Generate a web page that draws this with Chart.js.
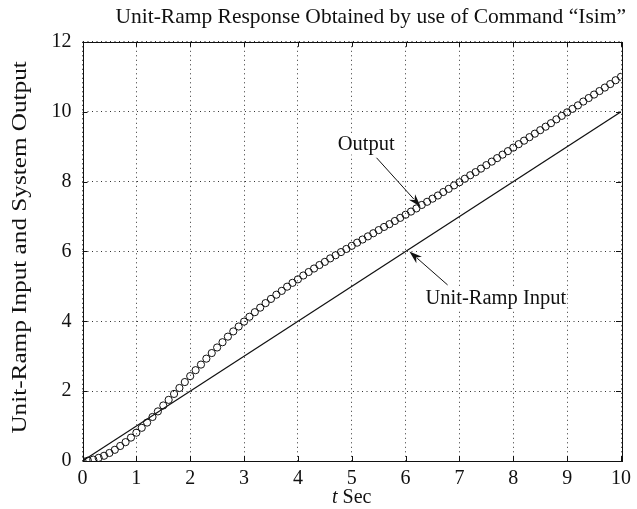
<!DOCTYPE html>
<html>
<head>
<meta charset="utf-8">
<title>Unit-Ramp Response</title>
<script src="https://cdn.jsdelivr.net/npm/chart.js@4.4.0/dist/chart.umd.min.js"></script>
<style>
  body { margin: 0; background: #fff; }
  canvas { display: block; }
</style>
</head>
<body>
<canvas id="chart" width="637" height="509"></canvas>
<script>
// time samples of the simulation (sec)
const timeSec = [
  0, 0.1, 0.2, 0.3, 0.4, 0.5, 0.6, 0.7, 0.8, 0.9,
  1, 1.1, 1.2, 1.3, 1.4, 1.5, 1.6, 1.7, 1.8, 1.9,
  2, 2.1, 2.2, 2.3, 2.4, 2.5, 2.6, 2.7, 2.8, 2.9,
  3, 3.1, 3.2, 3.3, 3.4, 3.5, 3.6, 3.7, 3.8, 3.9,
  4, 4.1, 4.2, 4.3, 4.4, 4.5, 4.6, 4.7, 4.8, 4.9,
  5, 5.1, 5.2, 5.3, 5.4, 5.5, 5.6, 5.7, 5.8, 5.9,
  6, 6.1, 6.2, 6.3, 6.4, 6.5, 6.6, 6.7, 6.8, 6.9,
  7, 7.1, 7.2, 7.3, 7.4, 7.5, 7.6, 7.7, 7.8, 7.9,
  8, 8.1, 8.2, 8.3, 8.4, 8.5, 8.6, 8.7, 8.8, 8.9,
  9, 9.1, 9.2, 9.3, 9.4, 9.5, 9.6, 9.7, 9.8, 9.9,
  10
];

// system output c(t), one value per sample above
const systemOutput = [
  0.00, 0.01, 0.04, 0.09, 0.15, 0.23, 0.32, 0.43, 0.54, 0.67,
  0.81, 0.95, 1.10, 1.26, 1.42, 1.59, 1.75, 1.92, 2.09, 2.26,
  2.43, 2.60, 2.76, 2.93, 3.09, 3.25, 3.40, 3.56, 3.71, 3.85,
  3.99, 4.13, 4.26, 4.39, 4.52, 4.64, 4.76, 4.87, 4.99, 5.10,
  5.20, 5.31, 5.41, 5.51, 5.61, 5.70, 5.80, 5.89, 5.98, 6.07,
  6.16, 6.25, 6.34, 6.43, 6.52, 6.61, 6.70, 6.78, 6.87, 6.96,
  7.05, 7.14, 7.23, 7.33, 7.42, 7.51, 7.60, 7.70, 7.79, 7.89,
  7.98, 8.08, 8.18, 8.27, 8.37, 8.47, 8.57, 8.67, 8.77, 8.87,
  8.97, 9.07, 9.17, 9.27, 9.37, 9.47, 9.57, 9.67, 9.78, 9.88,
  9.98, 10.08, 10.18, 10.29, 10.39, 10.49, 10.59, 10.69, 10.79, 10.90,
  11.00
];

// unit-ramp input r(t) = t, end points
const rampTime = [0, 10];
const rampInput = [0, 10];

// axis ticks
const xTicks = [0, 1, 2, 3, 4, 5, 6, 7, 8, 9, 10];
const yTicks = [0, 2, 4, 6, 8, 10, 12];

// text labels with arrows, in data units: label pos, arrow tail, arrow head
const notes = [
  { text: 'Output', at: [5.27, 9.06], align: 'center', from: [5.46, 8.68], to: [6.28, 7.28] },
  { text: 'Unit-Ramp Input', at: [6.37, 4.64], align: 'left', from: [6.78, 5.04], to: [6.07, 6.0] }
];

const FONT = '"Liberation Serif", "Times New Roman", serif';
const INK = '#111';

const toPoints = (xs, ys) => xs.map((x, i) => ({ x: x, y: ys[i] }));

/*
* Moldura do eixo, marcas de escala para dentro, setas e titulos dos eixos.
*/
const framePlugin = {
  id: 'frame',
  beforeDraw(chart) {
    const c = chart.ctx;
    c.save();
    c.fillStyle = '#fff';
    c.fillRect(0, 0, chart.width, chart.height);
    c.restore();
  },
  afterDraw(chart) {
    const c = chart.ctx;
    const a = chart.chartArea;
    const sx = chart.scales.x;
    const sy = chart.scales.y;
    const tick = 5;

    c.save();
    c.strokeStyle = INK;
    c.lineWidth = 1;
    c.setLineDash([]);

    // inward tick marks on all four sides
    c.beginPath();
    xTicks.forEach(v => {
      const px = Math.round(sx.getPixelForValue(v)) + 0.5;
      c.moveTo(px, a.bottom); c.lineTo(px, a.bottom - tick);
      c.moveTo(px, a.top); c.lineTo(px, a.top + tick);
    });
    yTicks.forEach(v => {
      const py = Math.round(sy.getPixelForValue(v)) + 0.5;
      c.moveTo(a.left, py); c.lineTo(a.left + tick, py);
      c.moveTo(a.right, py); c.lineTo(a.right - tick, py);
    });
    c.stroke();

    c.strokeRect(Math.round(a.left) + 0.5, Math.round(a.top) + 0.5,
      Math.round(a.right - a.left), Math.round(a.bottom - a.top));

    // annotations, on a white patch so the grid does not cross the text
    c.font = '20.5px ' + FONT;
    c.textBaseline = 'middle';
    notes.forEach(n => {
      const tx = sx.getPixelForValue(n.at[0]);
      const ty = sy.getPixelForValue(n.at[1]);
      const w = c.measureText(n.text).width;
      const left = n.align === 'center' ? tx - w / 2 : tx;
      c.fillStyle = '#fff';
      c.fillRect(left - 1, ty - 10, w + 2, 20);
      c.fillStyle = INK;
      c.textAlign = n.align;
      c.fillText(n.text, tx, ty);
      drawArrow(c,
        sx.getPixelForValue(n.from[0]), sy.getPixelForValue(n.from[1]),
        sx.getPixelForValue(n.to[0]), sy.getPixelForValue(n.to[1]));
    });

    // x axis title, italic t
    const cx = (a.left + a.right) / 2;
    const ty = 498;
    c.textAlign = 'left';
    c.font = 'italic 20px ' + FONT;
    const tW = c.measureText('t').width;
    c.font = '20px ' + FONT;
    const sW = c.measureText(' Sec').width;
    const x0 = cx - (tW + sW) / 2;
    c.font = 'italic 20px ' + FONT;
    c.fillText('t', x0, ty);
    c.font = '20px ' + FONT;
    c.fillText(' Sec', x0 + tW, ty);

    // y axis title, rotated and a bit stretched along the text
    c.save();
    c.translate(20, (a.top + a.bottom) / 2 - 4);
    c.rotate(-Math.PI / 2);
    c.scale(1.2, 1);
    c.textAlign = 'center';
    c.font = '21px ' + FONT;
    c.fillText('Unit-Ramp Input and System Output', 0, 0);
    c.restore();

    c.restore();
  }
};

function drawArrow(c, x1, y1, x2, y2) {
  const ang = Math.atan2(y2 - y1, x2 - x1);
  const len = 13;
  const half = 4.2;
  c.beginPath();
  c.moveTo(x1, y1);
  c.lineTo(x2 - Math.cos(ang) * len * 0.8, y2 - Math.sin(ang) * len * 0.8);
  c.stroke();
  c.beginPath();
  c.moveTo(x2, y2);
  c.lineTo(x2 - Math.cos(ang) * len - Math.sin(ang) * half, y2 - Math.sin(ang) * len + Math.cos(ang) * half);
  c.lineTo(x2 - Math.cos(ang) * len * 0.7, y2 - Math.sin(ang) * len * 0.7);
  c.lineTo(x2 - Math.cos(ang) * len + Math.sin(ang) * half, y2 - Math.sin(ang) * len - Math.cos(ang) * half);
  c.closePath();
  c.fill();
}

const ctx = document.getElementById('chart');

new Chart(ctx, {
  type: 'scatter',
  data: {
    datasets: [
      {
        label: 'Output',
        data: toPoints(timeSec, systemOutput),
        showLine: false,
        pointStyle: 'circle',
        pointRadius: 3.6,
        pointBorderWidth: 1,
        pointBorderColor: INK,
        pointBackgroundColor: 'rgba(0,0,0,0)'
      },
      {
        label: 'Unit-Ramp Input',
        data: toPoints(rampTime, rampInput),
        showLine: true,
        borderColor: INK,
        borderWidth: 1.2,
        pointRadius: 0
      }
    ]
  },
  options: {
    responsive: false,
    animation: false,
    events: [],
    layout: { padding: { left: 0, right: 11, top: 0, bottom: 0 } },
    plugins: {
      legend: { display: false },
      tooltip: { enabled: false },
      title: {
        display: true,
        text: 'Unit-Ramp Response Obtained by use of Command \u201cIsim\u201d',
        align: 'end',
        color: INK,
        font: { family: FONT, size: 21.5, weight: 'normal' },
        padding: { top: 4, bottom: 12 }
      }
    },
    scales: {
      x: {
        type: 'linear',
        min: 0,
        max: 10,
        afterFit: s => { s.height = 48; },
        afterBuildTicks: s => { s.ticks = xTicks.map(v => ({ value: v })); },
        ticks: {
          autoSkip: false,
          maxRotation: 0,
          padding: 6,
          color: INK,
          font: { family: FONT, size: 20 }
        },
        grid: { color: '#333', lineWidth: 1, drawTicks: false },
        border: { display: false, dash: [1, 3.5] }
      },
      y: {
        type: 'linear',
        min: 0,
        max: 12,
        afterFit: s => { s.width = 82.5; },
        afterBuildTicks: s => { s.ticks = yTicks.map(v => ({ value: v })); },
        ticks: {
          padding: 11,
          color: INK,
          font: { family: FONT, size: 20 }
        },
        grid: { color: '#333', lineWidth: 1, drawTicks: false },
        border: { display: false, dash: [1, 3.5] }
      }
    }
  },
  plugins: [framePlugin]
});
</script>
</body>
</html>
